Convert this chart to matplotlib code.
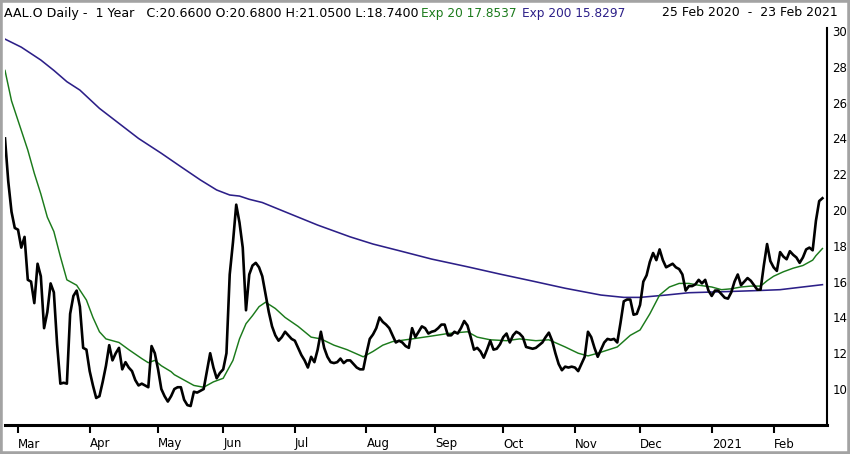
import matplotlib
matplotlib.use("Agg")
import matplotlib.pyplot as plt
from matplotlib.patches import Rectangle
import numpy as np

# daily closes, 25 Feb 2020 .. 23 Feb 2021 (trading days)
close = [
    24.0, 21.6, 19.9, 19.0, 18.9, 17.9, 18.5, 16.1, 16.0, 14.8,
    17.0, 16.3, 13.4, 14.3, 15.9, 15.4, 12.5, 10.3, 10.35, 10.3,
    14.2, 15.2, 15.5, 14.6, 12.3, 12.2, 11.0, 10.2, 9.5, 9.6,
    10.4, 11.3, 12.45, 11.6, 12.0, 12.3, 11.1, 11.5, 11.2, 11.0,
    10.5, 10.2, 10.3, 10.2, 10.1, 12.4, 12.0, 11.1, 10.0, 9.6,
    9.3, 9.6, 10.0, 10.1, 10.1, 9.4, 9.1, 9.05, 9.85, 9.8,
    9.9, 10.0, 11.0, 12.0, 11.2, 10.6, 10.9, 11.1, 12.0, 16.4,
    18.2, 20.3, 19.3, 17.9, 14.4, 16.4, 16.9, 17.05, 16.8, 16.3,
    15.3, 14.3, 13.5, 13.0, 12.7, 12.9, 13.2, 13.0, 12.8, 12.7,
    12.3, 11.9, 11.6, 11.2, 11.8, 11.5, 12.2, 13.2, 12.3, 11.8,
    11.5, 11.45, 11.5, 11.7, 11.45, 11.6, 11.6, 11.4, 11.2, 11.1,
    11.1, 12.0, 12.8, 13.05, 13.4, 14.0, 13.75, 13.6, 13.4, 13.0,
    12.6, 12.7, 12.6, 12.4, 12.3, 13.4, 12.9, 13.2, 13.5, 13.4,
    13.1, 13.2, 13.25, 13.4, 13.6, 13.6, 13.0, 13.0, 13.2, 13.1,
    13.4, 13.8, 13.55, 12.9, 12.2, 12.3, 12.1, 11.75, 12.2, 12.7,
    12.2, 12.25, 12.5, 12.9, 13.1, 12.6, 13.0, 13.2, 13.1, 12.9,
    12.35, 12.3, 12.25, 12.3, 12.45, 12.6, 12.9, 13.15, 12.7, 12.0,
    11.4, 11.05, 11.25, 11.2, 11.25, 11.2, 11.0, 11.4, 11.8, 13.2,
    12.9, 12.3, 11.8, 12.2, 12.6, 12.8, 12.75, 12.8, 12.6, 13.7,
    14.9, 15.0, 15.0, 14.15, 14.2, 14.7, 16.0, 16.35, 17.1, 17.6,
    17.2, 17.8, 17.2, 16.8, 16.9, 17.0, 16.8, 16.7, 16.4, 15.5,
    15.75, 15.75, 15.85, 16.1, 15.9, 16.1, 15.5, 15.2, 15.5, 15.5,
    15.3, 15.1, 15.05, 15.4, 16.0, 16.4, 15.8, 16.0, 16.2, 16.05,
    15.8, 15.55, 15.55, 16.9, 18.1, 17.15, 16.8, 16.6, 17.65, 17.4,
    17.25, 17.7, 17.5, 17.35, 17.05, 17.35, 17.8, 17.9, 17.75, 19.4,
    20.5, 20.66,
]

# exponential averages (trading-day index, value)
ema20_day = [0, 2, 4, 7, 9, 11, 13, 15, 17, 19, 21, 22, 25, 27, 29, 31, 35, 38,
             42, 44, 46, 48, 51, 52, 55, 58, 61, 64, 67, 70, 72, 74, 76, 78, 80,
             83, 86, 90, 94, 97, 101, 105, 110, 113, 116, 119, 125, 131, 136, 142,
             145, 149, 154, 158, 163, 167, 172, 176, 179, 182, 188, 192, 195, 198,
             201, 204, 207, 210, 213, 217, 220, 223, 226, 229, 232, 234, 236, 239,
             242, 245, 248, 249, 250, 251]
ema20_val = [27.8, 26.1, 25.0, 23.35, 22.05, 20.9, 19.6, 18.8, 17.4, 16.1, 15.9, 15.8,
             14.97, 14.0, 13.2, 12.8, 12.6, 12.2, 11.7, 11.47, 11.6, 11.3, 10.97, 10.8,
             10.5, 10.2, 10.1, 10.4, 10.6, 11.6, 12.8, 13.65, 14.1, 14.6, 14.85, 14.5,
             14.0, 13.5, 12.9, 12.8, 12.45, 12.2, 11.8, 12.1, 12.45, 12.65, 12.8, 12.96,
             13.1, 13.2, 12.9, 12.75, 12.7, 12.8, 12.7, 12.75, 12.35, 12.0, 11.85, 12.0,
             12.35, 13.0, 13.3, 14.2, 15.25, 15.7, 15.9, 15.9, 15.8, 15.7, 15.55, 15.6,
             15.7, 15.75, 15.75, 16.05, 16.3, 16.55, 16.75, 16.9, 17.2, 17.45, 17.65,
             17.85]

ema200_day = [0, 5, 11, 15, 19, 23, 29, 35, 41, 48, 54, 60, 65, 69, 72, 75, 79, 86,
              96, 106, 113, 121, 131, 142, 152, 162, 172, 183, 190, 195, 203, 210,
              221, 231, 238, 244, 251]
ema200_val = [29.55, 29.1, 28.38, 27.8, 27.17, 26.7, 25.68, 24.84, 24.0, 23.17, 22.42,
              21.68, 21.12, 20.84, 20.78, 20.6, 20.42, 19.9, 19.16, 18.5, 18.1, 17.73,
              17.26, 16.83, 16.42, 16.03, 15.63, 15.25, 15.12, 15.12, 15.25, 15.38,
              15.44, 15.5, 15.55, 15.68, 15.83]

# first trading day of each month
month_day = [4, 26, 47, 67, 89, 111, 132, 153, 175, 195, 217, 236]
month_lbl = ["Mar", "Apr", "May", "Jun", "Jul", "Aug", "Sep", "Oct", "Nov", "Dec",
             "2021", "Feb"]

green = "#1b7a1b"
navy = "#2c1f88"

fig = plt.figure(figsize=(8.5, 4.54), dpi=100)
W, H = 850.0, 454.0
ax = fig.add_axes([5 / W, 29 / H, 822 / W, 397 / H])

ax.plot(ema200_day, ema200_val, color=navy, lw=1.15)
ax.plot(ema20_day, ema20_val, color=green, lw=1.05)
ax.plot(np.arange(len(close)), close, color="black", lw=1.9)

ax.set_xlim(0, 252.4)
ax.set_ylim(7.99, 30.17)

for s in ["left", "top"]:
    ax.spines[s].set_visible(False)
ax.spines["bottom"].set_linewidth(2.2)
ax.spines["right"].set_linewidth(1.5)

ax.yaxis.tick_right()
ax.set_yticks(range(10, 31, 2))
ax.tick_params(axis="y", length=0, pad=4, labelsize=8.5)
ax.set_xticks(month_day)
ax.set_xticklabels(month_lbl, ha="left")
ax.tick_params(axis="x", length=6, width=1.5, direction="out", pad=3, labelsize=8.5)

# header line
ty = 1 - 13 / H
fig.text(4 / W, ty, "AAL.O Daily -  1 Year   C:20.6600 O:20.6800 H:21.0500 L:18.7400",
         fontsize=9.1, va="center", ha="left", color="black")
fig.text(421 / W, ty, "Exp 20 17.8537", fontsize=8.7, va="center", ha="left", color=green)
fig.text(522 / W, ty, "Exp 200 15.8297", fontsize=8.7, va="center", ha="left", color=navy)
fig.text(838 / W, ty, "25 Feb 2020  -  23 Feb 2021", fontsize=9.0, va="center",
         ha="right", color="black")

fig.patches.append(Rectangle((0, 0), 1, 1, transform=fig.transFigure, fill=False,
                             ec="#a3a3a3", lw=4))

fig.savefig("out.png", dpi=100)
